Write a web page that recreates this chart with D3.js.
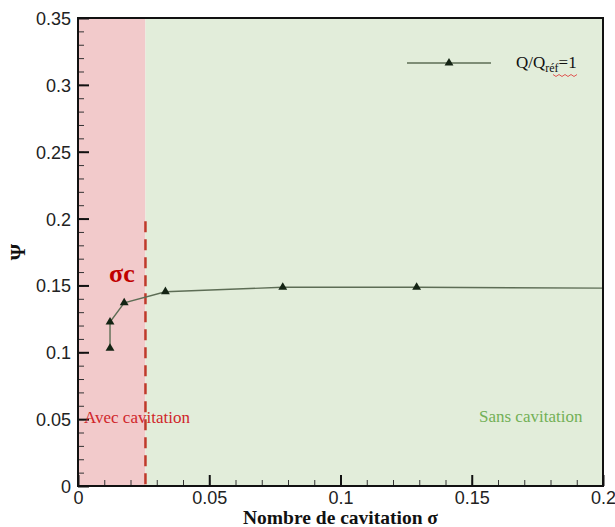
<!DOCTYPE html>
<html lang="fr">
<head>
<meta charset="UTF-8">
<title>Psi vs nombre de cavitation</title>
<style>
  body { margin: 0; background: #fff; }
  .tick text { font-family: "Liberation Sans", Arial, sans-serif; font-size: 18px; fill: #222; }
</style>
</head>
<body>
<svg id="chart" width="615" height="527"></svg>
<script src="https://cdn.jsdelivr.net/npm/d3@7"></script>
<script>
// data
var sigma = [0.0122, 0.0122, 0.0176, 0.0333, 0.078, 0.129];
var psi   = [0.103, 0.1226, 0.137, 0.1453, 0.1486, 0.1486];
var tailSigma = [0.2], tailPsi = [0.148];   // curve runs on to the edge, no marker
var sigmaCrit = 0.0257;
var xTicks = [0, 0.05, 0.1, 0.15, 0.2];
var yTicks = [0, 0.05, 0.1, 0.15, 0.2, 0.25, 0.3, 0.35];
var xTickLabels = ["0", "0.05", "0.1", "0.15", "0.2"];
var yTickLabels = ["0", "0.05", "0.1", "0.15", "0.2", "0.25", "0.3", "0.35"];

var serif = "'Liberation Serif', 'Times New Roman', 'DejaVu Serif', serif";

var margin = {top: 18, right: 12, bottom: 41, left: 78},
    width = 615 - margin.left - margin.right,
    height = 527 - margin.top - margin.bottom;

var svg = d3.select("#chart");
var g = svg.append("g").attr("transform", "translate(" + margin.left + "," + margin.top + ")");

var x = d3.scaleLinear().domain([0, 0.2]).range([0, width]);
var y = d3.scaleLinear().domain([0, 0.35]).range([height, 0]);

// zones
g.append("rect").attr("x", x(0)).attr("y", 0)
    .attr("width", x(sigmaCrit) - x(0)).attr("height", height)
    .attr("fill", "#f2cacb");
g.append("rect").attr("x", x(sigmaCrit)).attr("y", 0)
    .attr("width", x(0.2) - x(sigmaCrit)).attr("height", height)
    .attr("fill", "#e2edda");

// minor ticks
var minorX = d3.range(0, 0.2001, 0.01), minorY = d3.range(0, 0.3501, 0.01);
g.append("g").attr("transform", "translate(0," + height + ")")
    .call(d3.axisBottom(x).tickValues(minorX).tickSize(-6).tickFormat(""))
    .call(function(s) { s.select(".domain").remove(); s.selectAll("line").attr("stroke", "#333"); });
g.append("g")
    .call(d3.axisLeft(y).tickValues(minorY).tickSize(-6).tickFormat(""))
    .call(function(s) { s.select(".domain").remove(); s.selectAll("line").attr("stroke", "#333"); });

// major ticks + labels
g.append("g").attr("transform", "translate(0," + height + ")")
    .call(d3.axisBottom(x).tickValues(xTicks).tickSize(-11).tickPadding(6)
      .tickFormat(function(d, i) { return xTickLabels[i]; }))
    .call(function(s) {
      s.select(".domain").remove();
      s.selectAll("line").attr("stroke", "#111").attr("stroke-width", 2);
      s.selectAll("text").attr("font-size", null).attr("dy", "0.68em");
    });
g.append("g")
    .call(d3.axisLeft(y).tickValues(yTicks).tickSize(-11).tickPadding(7)
      .tickFormat(function(d, i) { return yTickLabels[i]; }))
    .call(function(s) {
      s.select(".domain").remove();
      s.selectAll("line").attr("stroke", "#111").attr("stroke-width", 2);
      s.selectAll("text").attr("font-size", null).attr("dy", "0.36em");
    });

// critical sigma dashed line
g.append("line")
    .attr("x1", x(sigmaCrit)).attr("x2", x(sigmaCrit))
    .attr("y1", y(0.198)).attr("y2", height)
    .attr("stroke", "#bf3a2b").attr("stroke-width", 2.5)
    .attr("stroke-dasharray", "11,7");

// curve
var pts = sigma.map(function(s, i) { return [s, psi[i]]; })
    .concat(tailSigma.map(function(s, i) { return [s, tailPsi[i]]; }));
var line = d3.line().x(function(d) { return x(d[0]); }).y(function(d) { return y(d[1]); });
g.append("path").datum(pts).attr("d", line)
    .attr("fill", "none").attr("stroke", "#5d6d55").attr("stroke-width", 1.4);

var tri = d3.symbol().type(d3.symbolTriangle).size(34);
g.selectAll(".mk").data(sigma).enter().append("path")
    .attr("class", "mk")
    .attr("transform", function(d, i) { return "translate(" + x(d) + "," + y(psi[i]) + ")"; })
    .attr("d", tri).attr("fill", "#142414");

// frame
g.append("rect").attr("width", width).attr("height", height)
    .attr("fill", "none").attr("stroke", "#111").attr("stroke-width", 2);

// annotations
g.append("text").attr("font-family", serif)
    .attr("x", x(0.0122) - 1).attr("y", y(0.1528))
    .attr("font-size", 26).attr("font-weight", "bold").attr("fill", "#c00000")
    .text("σc");
g.append("text").attr("font-family", serif)
    .attr("x", 6).attr("y", y(0.05) + 4)
    .attr("font-size", 17).attr("fill", "#d0262a")
    .text("Avec cavitation");
g.append("text").attr("font-family", serif)
    .attr("x", 401).attr("y", y(0.05) + 3)
    .attr("font-size", 17).attr("fill", "#72b056")
    .text("Sans cavitation");

// legend
var lg = g.append("g").attr("transform", "translate(329,45)");
lg.append("line").attr("x1", 0).attr("x2", 84)
    .attr("stroke", "#5d6d55").attr("stroke-width", 1.4);
lg.append("path").attr("transform", "translate(42,0)").attr("d", tri).attr("fill", "#142414");
var lt = lg.append("text").attr("font-family", serif).attr("x", 109).attr("y", 5)
    .attr("font-size", 17).attr("fill", "#111");
lt.append("tspan").text("Q/Q");
lt.append("tspan").attr("dy", 4).attr("font-size", 12).text("réf");
lt.append("tspan").attr("dy", -4).text("=1");
// spell-check squiggle under the subscript
var wave = d3.range(0, 9).map(function(i) { return [146 + i * 3, 12 + (i % 2 ? 1.5 : -0.5)]; });
lg.append("path").attr("d", d3.line()(wave))
    .attr("fill", "none").attr("stroke", "#e03030").attr("stroke-width", 0.8);

// axis titles
svg.append("text").attr("font-family", serif)
    .attr("x", margin.left + width / 2).attr("y", 524)
    .attr("text-anchor", "middle").attr("font-size", 19.5).attr("font-weight", "bold")
    .attr("fill", "#111")
    .text("Nombre de cavitation σ");
svg.append("text").attr("font-family", serif)
    .attr("transform", "translate(25," + (margin.top + y(0.175)) + ") rotate(-90)")
    .attr("text-anchor", "middle").attr("font-size", 21).attr("font-weight", "bold")
    .attr("fill", "#111")
    .text("Ψ");
</script>
</body>
</html>
